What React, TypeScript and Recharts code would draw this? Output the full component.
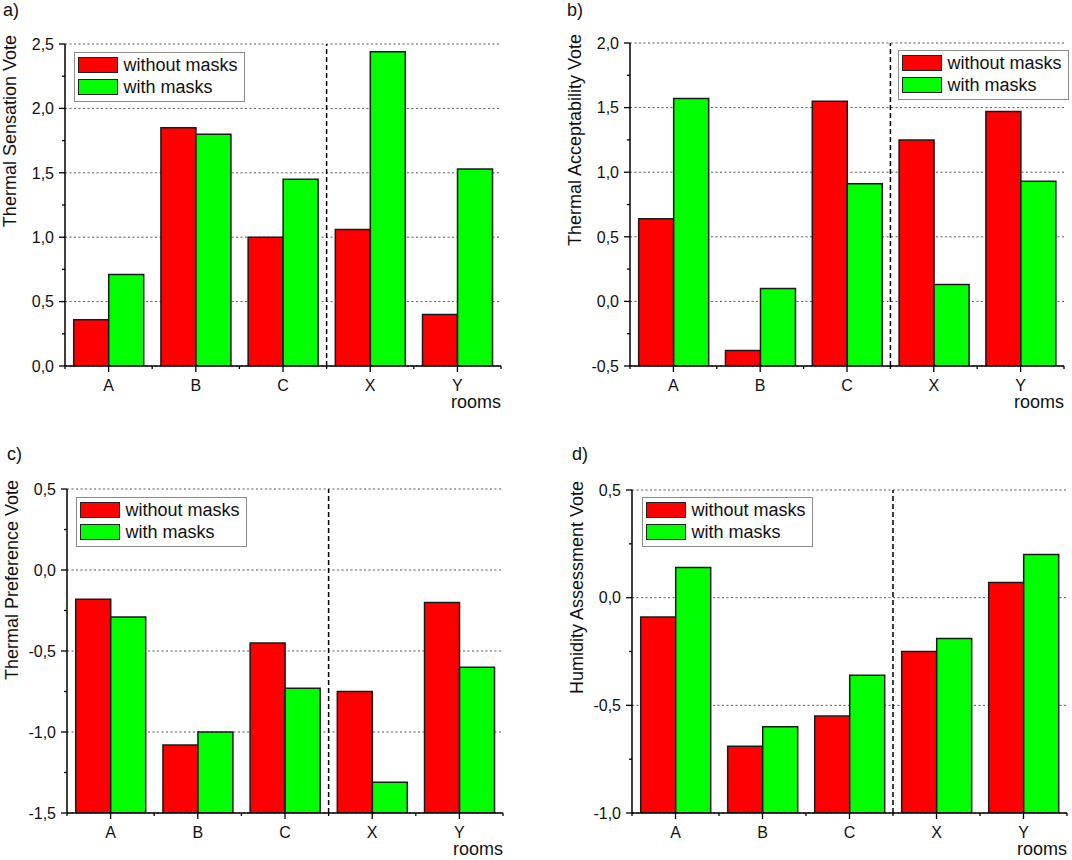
import React from 'react'
import { BarChart, Bar, XAxis, YAxis, CartesianGrid, ReferenceLine, Legend } from 'recharts'

// categories
const rooms = ['A', 'B', 'C', 'X', 'Y']
const seriesNames = ['without masks', 'with masks']

// a) thermal sensation
const sensationWithout = [0.36, 1.85, 1.0, 1.06, 0.4]
const sensationWith = [0.71, 1.8, 1.45, 2.44, 1.53]

// b) thermal acceptability
const acceptabilityWithout = [0.64, -0.38, 1.55, 1.25, 1.47]
const acceptabilityWith = [1.57, 0.1, 0.91, 0.13, 0.93]

// c) thermal preference
const preferenceWithout = [-0.18, -1.08, -0.45, -0.75, -0.2]
const preferenceWith = [-0.29, -1.0, -0.73, -1.31, -0.6]

// d) humidity assessment
const humidityWithout = [-0.09, -0.69, -0.55, -0.25, 0.07]
const humidityWith = [0.14, -0.6, -0.36, -0.19, 0.2]

// y ticks (majors every 0,5, minors in between)
const sensationTicks = [0, 0.25, 0.5, 0.75, 1, 1.25, 1.5, 1.75, 2, 2.25, 2.5]
const acceptabilityTicks = [-0.5, -0.25, 0, 0.25, 0.5, 0.75, 1, 1.25, 1.5, 1.75, 2]
const preferenceTicks = [-1.5, -1.25, -1, -0.75, -0.5, -0.25, 0, 0.25, 0.5]
const humidityTicks = [-1, -0.75, -0.5, -0.25, 0, 0.25, 0.5]

// dashed divider sits at the start of this room's band
const dividerRoom = 'X'

const FONT = '"Liberation Sans", Arial, Helvetica, sans-serif'
const RED = '#ff0000'
const GREEN = '#00ff00'
const INK = '#111'

const isMajor = (v: number) => Math.abs(v * 2 - Math.round(v * 2)) < 1e-6
const fmt = (v: number) => v.toFixed(1).replace('.', ',')

function YTick({ x, y, payload }: any) {
  const major = isMajor(payload.value)
  return (
    <g>
      <line x1={x - (major ? 6 : 3)} x2={x} y1={y} y2={y} stroke="#000" strokeWidth={1.3} />
      {major && (
        <text x={x - 11} y={y} dy="0.36em" textAnchor="end" fontSize={16} fontFamily={FONT} fill={INK}>
          {fmt(payload.value)}
        </text>
      )}
    </g>
  )
}

function RoomTick({ x, y, payload, index }: any) {
  const half = payload && typeof payload.offset === 'number' ? payload.offset : 0
  return (
    <g>
      <line x1={x} x2={x} y1={y} y2={y + 6} stroke="#000" strokeWidth={1.3} />
      {half > 0 && <line x1={x + half} x2={x + half} y1={y} y2={y + 3} stroke="#000" strokeWidth={1.3} />}
      {half > 0 && index === 0 && <line x1={x - half} x2={x - half} y1={y} y2={y + 3} stroke="#000" strokeWidth={1.3} />}
      <text x={x} y={y + 25} textAnchor="middle" fontSize={16} fontFamily={FONT} fill={INK}>
        {payload.value}
      </text>
    </g>
  )
}

const gridLine = (p: any) =>
  p.index % 2 === 0 ? (
    <line key={p.key} x1={p.x1} y1={p.y1} x2={p.x2} y2={p.y2} stroke="#555" strokeWidth={1} strokeDasharray="2 2.5" />
  ) : (
    <g key={p.key} />
  )

function LegendBox({ payload }: any) {
  const items = [...(payload || [])].sort(
    (a: any, b: any) => seriesNames.indexOf(a.value) - seriesNames.indexOf(b.value)
  )
  return (
    <div
      style={{
        width: 171,
        height: 50,
        boxSizing: 'border-box',
        border: '1.5px solid #8c8c8c',
        background: '#fff',
        padding: '1px 0 0 2.5px',
      }}
    >
      {items.map((item: any) => (
        <div key={item.value} style={{ display: 'flex', alignItems: 'center', height: 22 }}>
          <span
            style={{
              display: 'inline-block',
              width: 40,
              height: 16,
              boxSizing: 'border-box',
              border: '1.5px solid #222',
              background: item.color,
            }}
          />
          <span style={{ marginLeft: 6, fontSize: 18, fontFamily: FONT, color: INK, lineHeight: '18px' }}>
            {item.value}
          </span>
        </div>
      ))}
    </div>
  )
}

interface PanelProps {
  letter: string
  title: string
  without: number[]
  withMasks: number[]
  ticks: number[]
  origin: { left: number; top: number }
  plot: { left: number; top: number; right: number; bottom: number }
  legend: { left: number; top: number }
  letterPos: { left: number; top: number }
}

const W = 536
const H = 430

function Panel({ letter, title, without, withMasks, ticks, origin, plot, legend, letterPos }: PanelProps) {
  const yMin = ticks[0]
  const yMax = ticks[ticks.length - 1]
  const data = rooms.map((room, i) => ({ room, without: without[i], withMasks: withMasks[i] }))

  return (
    <div style={{ position: 'absolute', left: origin.left, top: origin.top, width: W, height: H }}>
      <div
        style={{
          position: 'absolute',
          left: letterPos.left,
          top: letterPos.top,
          fontSize: 18,
          lineHeight: '18px',
          fontFamily: FONT,
          color: INK,
          zIndex: 2,
        }}
      >
        {letter}
      </div>
      <BarChart
        width={W}
        height={H}
        data={data}
        margin={{ top: plot.top, right: W - plot.right, bottom: 0, left: 0 }}
        barCategoryGap="10%"
        barGap={0}
      >
        <CartesianGrid vertical={false} horizontal={gridLine} />
        <XAxis
          dataKey="room"
          height={H - plot.bottom}
          interval={0}
          tickSize={0}
          tickMargin={0}
          tickLine={false}
          axisLine={{ stroke: '#000', strokeWidth: 1.5 }}
          tick={<RoomTick />}
          label={(props: any) => {
            const vb = props.viewBox || {}
            return (
              <text x={vb.x + vb.width} y={vb.y + 42} textAnchor="end" fontSize={18} fontFamily={FONT} fill={INK}>
                rooms
              </text>
            )
          }}
        />
        <YAxis
          width={plot.left}
          domain={[yMin, yMax]}
          ticks={ticks}
          interval={0}
          allowDataOverflow
          tickSize={0}
          tickMargin={0}
          tickLine={false}
          axisLine={{ stroke: '#000', strokeWidth: 1.5 }}
          tick={<YTick />}
          label={(props: any) => {
            const vb = props.viewBox || {}
            const cx = vb.x + vb.width - 55
            const cy = vb.y - 9
            return (
              <text
                x={cx}
                y={cy}
                transform={`rotate(-90 ${cx} ${cy})`}
                textAnchor="end"
                dominantBaseline="central"
                fontSize={18}
                fontFamily={FONT}
                fill={INK}
              >
                {title}
              </text>
            )
          }}
        />
        <ReferenceLine x={dividerRoom} position="start" stroke="#000" strokeWidth={1.5} strokeDasharray="5 3" />
        <Bar
          name={seriesNames[0]}
          dataKey={(d: any) => [yMin, d.without]}
          fill={RED}
          stroke="#1a1a1a"
          strokeWidth={1.5}
          isAnimationActive={false}
        />
        <Bar
          name={seriesNames[1]}
          dataKey={(d: any) => [yMin, d.withMasks]}
          fill={GREEN}
          stroke="#1a1a1a"
          strokeWidth={1.5}
          isAnimationActive={false}
        />
        <Legend
          layout="vertical"
          align="center"
          verticalAlign="middle"
          content={<LegendBox />}
          wrapperStyle={{ left: legend.left, top: legend.top, width: 171, height: 50 }}
        />
      </BarChart>
    </div>
  )
}

export default function App() {
  return (
    <div style={{ position: 'absolute', left: 0, top: 0, width: 1072, height: 860, background: '#fff' }}>
      <Panel
        letter="a)"
        title="Thermal Sensation Vote"
        without={sensationWithout}
        withMasks={sensationWith}
        ticks={sensationTicks}
        origin={{ left: 0, top: 0 }}
        plot={{ left: 65, top: 44, right: 501, bottom: 366 }}
        legend={{ left: 74, top: 52 }}
        letterPos={{ left: 3, top: 1 }}
      />
      <Panel
        letter="b)"
        title="Thermal Acceptability Vote"
        without={acceptabilityWithout}
        withMasks={acceptabilityWith}
        ticks={acceptabilityTicks}
        origin={{ left: 536, top: 0 }}
        plot={{ left: 94, top: 43, right: 528, bottom: 366 }}
        legend={{ left: 362, top: 50 }}
        letterPos={{ left: 31, top: 1 }}
      />
      <Panel
        letter="c)"
        title="Thermal Preference Vote"
        without={preferenceWithout}
        withMasks={preferenceWith}
        ticks={preferenceTicks}
        origin={{ left: 0, top: 430 }}
        plot={{ left: 67, top: 59, right: 503, bottom: 383 }}
        legend={{ left: 76, top: 67 }}
        letterPos={{ left: 7, top: 15 }}
      />
      <Panel
        letter="d)"
        title="Humidity Assessment Vote"
        without={humidityWithout}
        withMasks={humidityWith}
        ticks={humidityTicks}
        origin={{ left: 536, top: 430 }}
        plot={{ left: 96, top: 60, right: 531, bottom: 383 }}
        legend={{ left: 106, top: 67 }}
        letterPos={{ left: 36, top: 15 }}
      />
    </div>
  )
}
